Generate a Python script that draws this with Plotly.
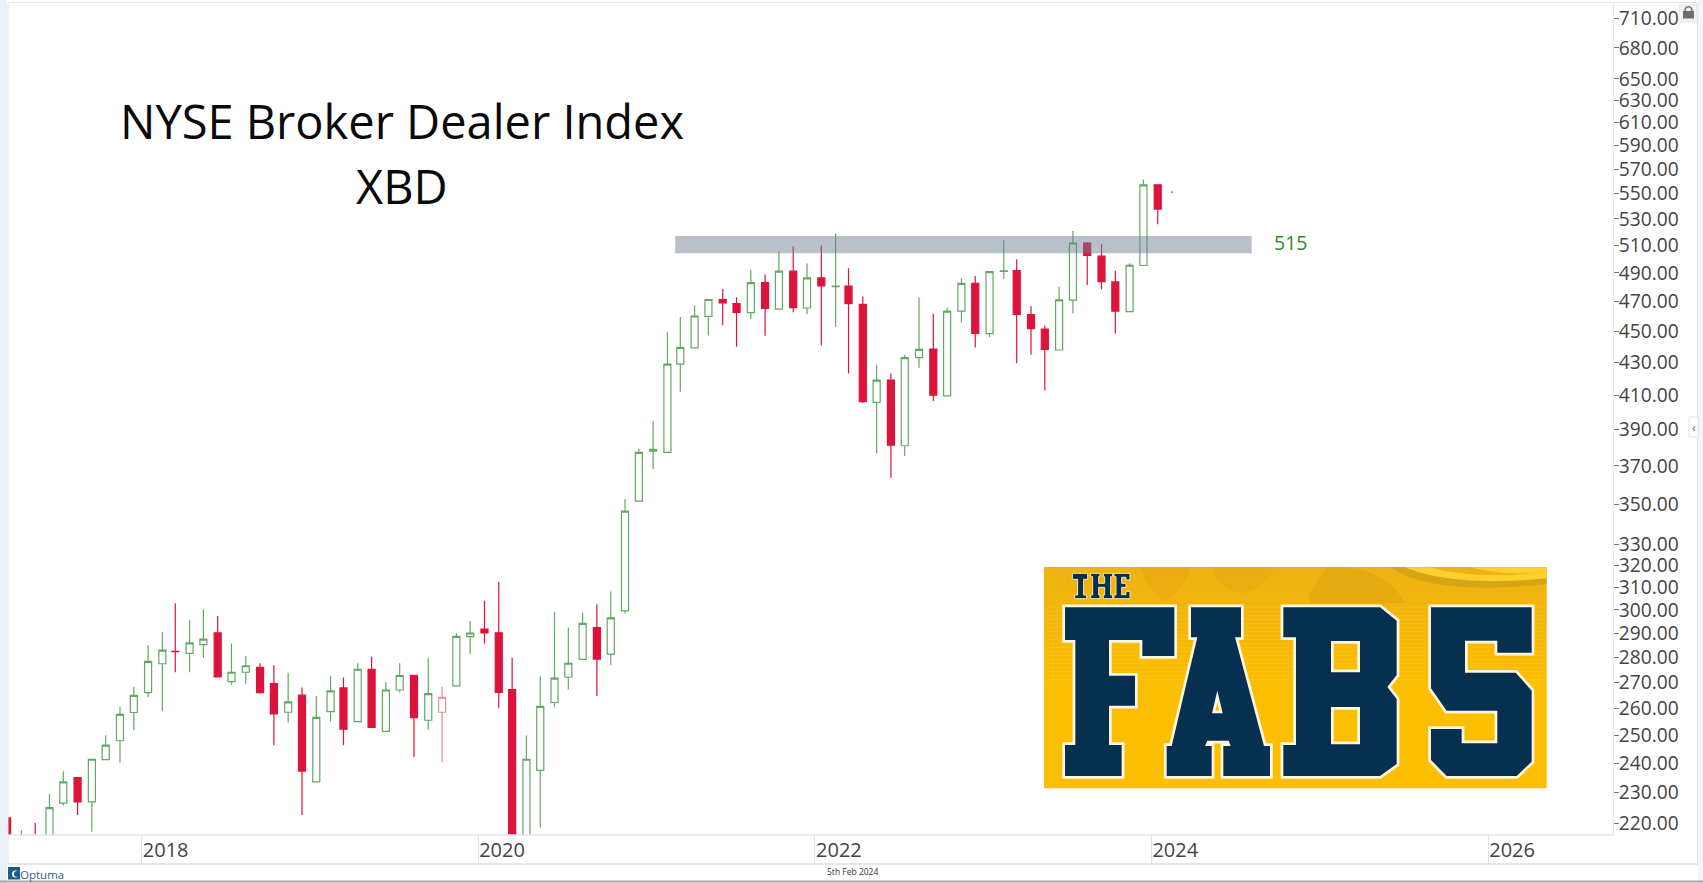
import plotly.graph_objects as go

months = [f"{y}-{m:02d}-15" for y in range(2017, 2025) for m in range(1, 13)
          if (y, m) >= (2017, 3) and (y, m) <= (2024, 1)]

open_ = [221.7, 205, 214, 212, 226.5, 235.0, 226.9, 241.3, 248, 258.4,
         266, 277.4, 282.5, 281.6, 285.2, 290.2, 270.3, 274, 276, 269.5, 258.5, 265,
         233.6, 258.7, 267.8, 255, 275.2, 251.4, 267, 272.8, 255.5, 258.5, 268.6, 288.6,
         291.8, 290.2, 267.2, 200, 237.5, 262.2, 272, 279.2, 292.4, 281.3, 299.6, 351.5,
         378, 377.4, 429.1, 439.4, 460, 471.4, 468.6, 462.5, 483.1, 464.8, 491.2, 465.6,
         486.4, 480.3, 480.7, 468.1, 405.8, 419.2, 381, 433.1, 438.6, 409.7, 463.5, 482.6,
         448.5, 491, 491.7, 461.1, 451.5, 438, 470.9, 511.8, 502.1, 483.6, 463.1, 495.3,
         557]
close = [212, 212, 208, 225, 233.6, 226.9, 241.4, 246.4, 257.7, 264.9,
         278.4, 283, 282.3, 286, 287.5, 272.1, 274, 276.6, 266, 257.9, 262.4, 237.3,
         256.6, 266.7, 252.2, 275.2, 252.9, 267, 272.7, 256.5, 265.6, 264.2, 288.7, 290.1,
         290.2, 266.1, 200, 241.4, 260.7, 271.7, 277.6, 294.2, 279.3, 296.6, 346.4, 377.4,
         379, 429.1, 439.6, 460.2, 471.4, 469.1, 462.7, 483.1, 465.3, 491.2, 465.8, 486.4,
         480.9, 480.7, 468.6, 406.2, 419.2, 381.4, 433.1, 438.4, 410.1, 463.5, 482.6, 448.7,
         490.9, 491.4, 461.3, 451.8, 438.4, 471.2, 511.8, 502.6, 483.8, 463.5, 495.5, 557,
         537.7]
high = [222.2, 217.8, 220, 229.4, 237.2, 235.2, 241.6, 250, 260.5, 268.3,
        285, 290.4, 302.9, 295.5, 300.3, 297.4, 285.7, 280.6, 277.6, 276.8, 273.8, 268,
        264.7, 272.5, 271.9, 277.6, 280.2, 270.1, 277.6, 273, 279.8, 268.3, 290, 295.2,
        304, 312.6, 279.8, 250, 272.4, 299, 292.4, 298.8, 302.5, 308.2, 352.4, 379.3,
        395, 449.6, 459.5, 467.3, 471.4, 478.6, 473, 492.2, 488.8, 505.7, 509.2, 496.7,
        510, 519, 493.4, 473.4, 428.7, 423.3, 434.8, 472.8, 461.8, 465.8, 486.2, 487.8,
        490.9, 513.8, 499.8, 466.8, 454.1, 480.2, 520.8, 512.5, 510.8, 491.4, 497, 561.4,
        557.3]
low = [208, 200, 204, 210, 225.6, 222.6, 217.2, 241.1, 240.2, 251.8,
       264.2, 259, 274, 274, 279.8, 272.1, 269.1, 269.4, 265.6, 246.4, 254.7, 222.6,
       233.6, 255, 246.4, 255, 252.9, 251.2, 266.1, 242.2, 252, 240.3, 268.6, 281.5,
       285.7, 260, 190, 195, 218.6, 260.5, 267.2, 279.2, 264.7, 276.8, 298.5, 351.2,
       368.3, 377.4, 412.1, 439.4, 447.4, 454, 440, 458.2, 447.1, 464.8, 462.7, 461.3,
       440.9, 453, 423.3, 405.4, 376.7, 363.6, 375.4, 426.8, 406.6, 409.7, 455.8, 439.6,
       446.2, 485.9, 429.6, 435, 413.1, 438, 462, 481.4, 478.4, 448.7, 463.1, 494.9,
       526]

pink_month = "2019-10-15"
last_date = "2024-02-15"
last_value = 551

y_ticks = [220, 230, 240, 250, 260, 270, 280, 290, 300, 310, 320, 330, 350, 370, 390,
           410, 430, 450, 470, 490, 510, 530, 550, 570, 590, 610, 630, 650, 680, 710]
year_ticks = ["2018-01-01", "2020-01-01", "2022-01-01", "2024-01-01", "2026-01-01"]
year_labels = ["2018", "2020", "2022", "2024", "2026"]

band_low, band_high = 504.2, 517
band_start, band_end = "2021-03-04", "2024-08-06"
band_label = "515"

GREEN = "#62a862"
RED = "#dc143c"
L, R, T, B = 8, 1613, 3, 835
W, H = 1703, 883


def px(x):
    return (x - L) / (R - L)


def py(y):
    return (B - y) / (B - T)


def poly(pts, ox, oy=560):
    s = "M " + " L ".join(f"{px(ox + a / 3):.5f},{py(oy + b / 3):.5f}" for a, b in pts) + " Z"
    return s


def curve(cmds, ox, oy=560):
    out = []
    for tok in cmds:
        if isinstance(tok, str):
            out.append(tok)
        else:
            out.append(f"{px(ox + tok[0] / 3):.5f},{py(oy + tok[1] / 3):.5f}")
    return " ".join(out)


def rect(x0, y0, x1, y1, fill, line=None, width=1, layer="above"):
    return dict(type="rect", xref="paper", yref="paper", x0=px(x0), x1=px(x1), y0=py(y0), y1=py(y1),
                fillcolor=fill, line=dict(color=line or "rgba(0,0,0,0)", width=width if line else 0), layer=layer)


def hline(y, x0, x1, color, width=1):
    return dict(type="line", xref="paper", yref="paper", x0=px(x0), x1=px(x1), y0=py(y), y1=py(y),
                line=dict(color=color, width=width), layer="above")


def vline(x, y0, y1, color, width=1):
    return dict(type="line", xref="paper", yref="paper", x0=px(x), x1=px(x), y0=py(y0), y1=py(y1),
                line=dict(color=color, width=width), layer="above")


idx = [i for i, d in enumerate(months) if d != pink_month]
pick = lambda a, ii: [a[i] for i in ii]
pi = [months.index(pink_month)]

fig = go.Figure()
fig.add_trace(go.Candlestick(
    x=pick(months, idx), open=pick(open_, idx), high=pick(high, idx), low=pick(low, idx), close=pick(close, idx),
    increasing=dict(line=dict(color=GREEN, width=1.2), fillcolor="white"),
    decreasing=dict(line=dict(color=RED, width=1.2), fillcolor=RED),
    showlegend=False, hoverinfo="skip"))
fig.add_trace(go.Candlestick(
    x=pick(months, pi), open=pick(open_, pi), high=pick(high, pi), low=pick(low, pi), close=pick(close, pi),
    increasing=dict(line=dict(color="#e88aa2", width=1.2), fillcolor="white"),
    decreasing=dict(line=dict(color="#e88aa2", width=1.2), fillcolor="white"),
    showlegend=False, hoverinfo="skip"))
fig.add_trace(go.Scatter(x=[last_date], y=[last_value], mode="markers",
                         marker=dict(size=2, color="#888888"), showlegend=False, hoverinfo="skip"))

shapes = []
# frame
shapes += [rect(0, 0, 7, H, "#e8f0f9"), rect(1698, 0, W, H, "#f1f5fa")]
shapes += [hline(2.5, 8, 1698, "#e6e6e6"), hline(864, 8, 1698, "#dedede", 1.5), vline(1697.5, 3, 864, "#e2e2e2"),
           hline(835, 8, 1613, "#e4e4e4", 1.5), hline(881.5, 0, W, "#a6a6a6", 2), vline(8, 3, 864, "#e4e4e4")]
# resistance band over the candles
shapes.append(dict(type="rect", xref="x", yref="y", x0=band_start, x1=band_end, y0=band_low, y1=band_high,
                   fillcolor="rgba(108,126,146,0.485)", line=dict(width=0), layer="above"))
# banner
bx0, bx1, by0, by1 = 1044, 1546.7, 567, 787.7
N = 55
for i in range(N):
    t = min(1, i / (N * 0.5))
    c = f"rgb({int(238 + 14 * t)},{int(178 + 12 * t)},{int(18 - 18 * t)})"
    shapes.append(rect(bx0, by0 + (by1 - by0) * i / N, bx1, by0 + (by1 - by0) * (i + 1) / N + 0.5, c))


def deco(cmds, ox, col):
    shapes.append(dict(type="path", xref="paper", yref="paper", path=curve(cmds, ox), fillcolor=col,
                       line=dict(width=0), layer="above"))


deco(["M", (55, 105), "L", (110, 22), "L", (175, 22), "Q", (300, 40), (345, 130), "L", (60, 130), "Z"], 1290, "rgba(205,150,20,0.30)")
deco(["M", (175, 22), "L", (300, 22), "Q", (430, 110), (770, 72), "L", (770, 55), "Q", (490, 82), (345, 22), "Z"], 1290, "#d6a516")
deco(["M", (345, 22), "Q", (490, 82), (770, 55), "L", (770, 35), "Q", (560, 62), (420, 22), "Z"], 1290, "#fdd02c")
deco(["M", (540, 22), "L", (770, 22), "L", (770, 35), "Q", (650, 50), (540, 22), "Z"], 1290, "#fdd02c")
deco(["M", (300, 22), "L", (450, 22), "Q", (440, 80), (370, 125), "Q", (320, 80), (300, 22), "Z"], 1040, "rgba(225,150,20,0.28)")
deco(["M", (520, 22), "L", (700, 22), "Q", (690, 70), (610, 100), "Q", (530, 90), (520, 22), "Z"], 1040, "rgba(215,150,25,0.22)")

F = [(75, 142), (403, 142), (403, 288), (307, 288), (307, 240), (207, 240), (207, 347), (285, 347), (285, 437),
     (207, 437), (207, 555), (245, 555), (245, 648), (75, 648), (75, 555), (106, 555), (106, 240), (75, 240)]
A = [(453, 142), (603, 142), (603, 232), (585, 232), (672, 558), (690, 558), (690, 648), (550, 648), (550, 558),
     (572, 558), (566, 542), (502, 542), (495, 558), (515, 558), (515, 648), (380, 648), (380, 558), (395, 558),
     (472, 232), (453, 232)]
A_hole = [(532, 392), (548, 460), (516, 460)]
B_out = [(-20, 142), (270, 142), (320, 182), (320, 345), (292, 381), (320, 417), (320, 612), (270, 648), (-20, 648),
         (-20, 555), (18, 555), (18, 232), (-20, 232)]
B_h1 = [(123, 243), (210, 243), (210, 337), (123, 337)]
B_h2 = [(123, 441), (210, 441), (210, 553), (123, 553)]
S = [(423, 142), (725, 142), (725, 278), (622, 278), (622, 242), (525, 242), (525, 338), (677, 338), (725, 392),
     (725, 605), (680, 648), (470, 648), (423, 600), (423, 507), (515, 507), (515, 550), (622, 550), (622, 452),
     (470, 452), (423, 385)]
T_ = [(97, 40), (143, 40), (143, 58), (131, 58), (131, 105), (140, 105), (140, 116), (104, 116), (104, 105),
      (113, 105), (113, 58), (97, 58)]
H_ = [(152, 40), (180, 40), (180, 50), (176, 50), (176, 70), (194, 70), (194, 50), (190, 50), (190, 40), (218, 40),
      (218, 50), (212, 50), (212, 105), (218, 105), (218, 116), (190, 116), (190, 105), (194, 105), (194, 82),
      (176, 82), (176, 105), (180, 105), (180, 116), (152, 116), (152, 105), (158, 105), (158, 50), (152, 50)]
E_ = [(222, 40), (270, 40), (270, 60), (258, 60), (258, 52), (245, 52), (245, 70), (258, 70), (258, 82), (245, 82),
      (245, 104), (258, 104), (258, 94), (270, 94), (270, 116), (222, 116), (222, 105), (228, 105), (228, 50), (222, 50)]
NAVY = "#05304f"
big = [poly(F, 1040), poly(A, 1040) + " " + poly(A_hole, 1040),
       poly(B_out, 1290) + " " + poly(B_h1, 1290) + " " + poly(B_h2, 1290), poly(S, 1290)]
small = [poly(T_, 1040), poly(H_, 1040), poly(E_, 1040)]
for p in big:
    shapes.append(dict(type="path", xref="paper", yref="paper", path=p, fillcolor=NAVY,
                       line=dict(color="#fdf5dc", width=5.5), layer="above"))
    shapes.append(dict(type="path", xref="paper", yref="paper", path=p, fillcolor=NAVY, line=dict(width=0), layer="above"))
for p in small:
    shapes.append(dict(type="path", xref="paper", yref="paper", path=p, fillcolor=NAVY,
                       line=dict(color="#f4e6b0", width=1), layer="above"))
# lock button and collapse button
shapes.append(rect(1679, 5, 1697, 22, "#f3f3f3", "#e6e6e6"))
shapes.append(rect(1683, 11, 1694, 18.5, "#6e6e6e"))
shapes.append(dict(type="path", xref="paper", yref="paper", layer="above", fillcolor="rgba(0,0,0,0)",
                   line=dict(color="#6e6e6e", width=1.6),
                   path=f"M {px(1685.3)},{py(11)} L {px(1685.3)},{py(8.5)} Q {px(1688.5)},{py(5)} {px(1691.7)},{py(8.5)} L {px(1691.7)},{py(11)}"))
shapes.append(rect(1689, 417, 1698, 437, "#ffffff", "#e2e2e2"))
# Optuma logo
shapes.append(rect(8, 867, 20, 879.5, "#1d5c8c"))
shapes.append(dict(type="circle", xref="paper", yref="paper", x0=px(12), x1=px(19), y0=py(870.5), y1=py(877.5),
                   fillcolor="#ffffff", line=dict(width=0), layer="above"))
shapes.append(dict(type="circle", xref="paper", yref="paper", x0=px(14), x1=px(20), y0=py(871), y1=py(877),
                   fillcolor="#1d5c8c", line=dict(width=0), layer="above"))

anns = [
    dict(x=px(402), y=py(121.5), text="NYSE Broker Dealer Index", font=dict(size=47, color="#0a0a0a")),
    dict(x=px(401.5), y=py(186), text="XBD", font=dict(size=47, color="#0a0a0a")),
    dict(x=px(1290), y=py(243), text=band_label, font=dict(size=19.5, color="#2a8c2a")),
    dict(x=px(853), y=py(872), text="5th Feb 2024", font=dict(size=8.5, color="#333333")),
    dict(x=px(42), y=py(874), text="Optuma", font=dict(size=11.5, color="#2c5f88")),
    dict(x=px(1693.5), y=py(427), text="‹", font=dict(size=12, color="#666666")),
]
for a in anns:
    a.update(xref="paper", yref="paper", showarrow=False, xanchor="center", yanchor="middle",
             font=dict(family="Open Sans", **a["font"]))

fig.update_layout(
    width=W, height=H, margin=dict(l=L, r=W - R, t=T, b=H - B, autoexpand=False),
    paper_bgcolor="white", plot_bgcolor="white", showlegend=False, boxmode="overlay", boxgap=0.22,
    shapes=shapes, annotations=anns,
    font=dict(family="Open Sans", color="#444444"),
    xaxis=dict(type="date", range=["2017-03-17", "2026-09-29"], rangeslider=dict(visible=False),
               tickmode="array", tickvals=year_ticks, ticktext=year_labels, showgrid=False, zeroline=False,
               ticks="outside", ticklen=29, tickcolor="#e0e0e0", tickwidth=1,
               ticklabelstandoff=-32, ticklabelshift=24, tickangle=0,
               tickfont=dict(size=20, color="#444444"), showline=False, fixedrange=True),
    yaxis=dict(type="log", side="right", range=[2.33486, 2.86082], tickmode="array", tickvals=y_ticks,
               ticktext=[f"{v:.2f}" for v in y_ticks], showgrid=False, zeroline=False,
               showline=True, linecolor="#e4e4e4", linewidth=1, ticks="outside", ticklen=5, tickcolor="#777777",
               ticklabelstandoff=-4,
               tickfont=dict(size=19.2, color="#444444"), fixedrange=True),
)
fig.write_html("out.html", config=dict(displayModeBar=False),
               post_script="document.body.style.margin='0';document.documentElement.style.overflow='hidden';")
